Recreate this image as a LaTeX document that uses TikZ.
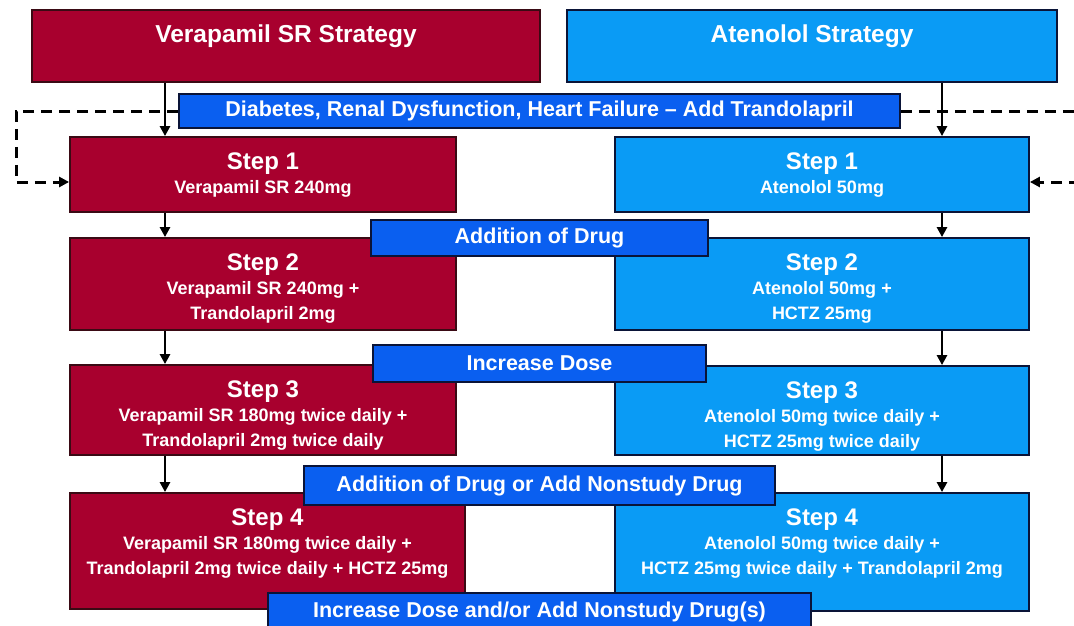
\documentclass[tikz,border=0pt]{standalone}
\usepackage{fontspec}
\setmainfont{Liberation Sans}
\usetikzlibrary{arrows.meta, calc}
\definecolor{verared}{HTML}{A8002E}
\definecolor{atenblue}{HTML}{0A9BF5}
\definecolor{barblue}{HTML}{0A5FF0}
\definecolor{redline}{HTML}{3A0A14}
\definecolor{blueline}{HTML}{0A1438}
\newcommand{\stephead}[1]{{\fontsize{24}{24}\selectfont #1}}
\tikzset{
  redbox/.style={rectangle, fill=verared, draw=redline, line width=1.8pt, inner sep=0pt},
  bluebox/.style={rectangle, fill=atenblue, draw=blueline, line width=1.8pt, inner sep=0pt},
  bar/.style={rectangle, fill=barblue, draw=blueline, line width=1.8pt, inner sep=0pt, text=white, font=\bfseries\fontsize{21.5}{24}\selectfont},
  title/.style={text=white, anchor=north, inner sep=0pt, font=\bfseries\fontsize{24.5}{26}\selectfont},
  steptxt/.style={text=white, align=center, anchor=north, inner sep=0pt, font=\bfseries\fontsize{18}{24.5}\selectfont},
  flow/.style={-{Triangle[length=10pt, width=10pt]}, line width=2.8pt},
  loopback/.style={-{Triangle[length=10pt, width=10pt]}, line width=3pt, dash pattern=on 11pt off 7pt},
  every node/.append style={font=\bfseries}
}

\begin{document}
\begin{tikzpicture}[x=1pt, y=-1pt]
\clip (0,0) rectangle (1074,626);
\fill[white] (0,0) rectangle (1074,626);
\node[redbox, minimum width=508pt, minimum height=72pt] (vs) at (286,46) {};
\node[title] (vst) at ([yshift=-15pt]vs.north) {Verapamil SR Strategy};
\node[bluebox, minimum width=490pt, minimum height=72pt] (as) at (812,46) {};
\node[title] (ast) at ([yshift=-15pt]as.north) {Atenolol Strategy};
\node[redbox, minimum width=386pt, minimum height=75pt] (v1) at (263,174.5) {};
\node[redbox, minimum width=386pt, minimum height=92pt] (v2) at (263,284) {};
\node[redbox, minimum width=386pt, minimum height=90pt] (v3) at (263,410) {};
\node[redbox, minimum width=395pt, minimum height=116pt] (v4) at (267.5,551) {};
\node[bluebox, minimum width=414pt, minimum height=75pt] (a1) at (822,174.5) {};
\node[bluebox, minimum width=414pt, minimum height=92pt] (a2) at (822,284) {};
\node[bluebox, minimum width=414pt, minimum height=89pt] (a3) at (822,410.5) {};
\node[bluebox, minimum width=414pt, minimum height=118pt] (a4) at (822,552) {};
\node[steptxt] (v1t) at ([yshift=-16pt]v1.north) {\stephead{Step 1}\\Verapamil SR 240mg};
\node[steptxt] (v2t) at ([yshift=-16pt]v2.north) {\stephead{Step 2}\\Verapamil SR 240mg +\\Trandolapril 2mg};
\node[steptxt] (v3t) at ([yshift=-16pt]v3.north) {\stephead{Step 3}\\Verapamil SR 180mg twice daily +\\Trandolapril 2mg twice daily};
\node[steptxt] (v4t) at ([yshift=-16pt]v4.north) {\stephead{Step 4}\\Verapamil SR 180mg twice daily +\\Trandolapril 2mg twice daily + HCTZ 25mg};
\node[steptxt] (a1t) at ([yshift=-16pt]a1.north) {\stephead{Step 1}\\Atenolol 50mg};
\node[steptxt] (a2t) at ([yshift=-16pt]a2.north) {\stephead{Step 2}\\Atenolol 50mg +\\HCTZ 25mg};
\node[steptxt] (a3t) at ([yshift=-16pt]a3.north) {\stephead{Step 3}\\Atenolol 50mg twice daily +\\HCTZ 25mg twice daily};
\node[steptxt] (a4t) at ([yshift=-16pt]a4.north) {\stephead{Step 4}\\Atenolol 50mg twice daily +\\HCTZ 25mg twice daily + Trandolapril 2mg};
\coordinate (lx) at (165,0);
\coordinate (rx) at (942,0);
\foreach \a/\b/\c in {vs/v1/lx, v1/v2/lx, v2/v3/lx, v3/v4/lx, as/a1/rx, a1/a2/rx, a2/a3/rx, a3/a4/rx}
  \draw[flow] (\a.south -| \c) -- (\b.north -| \c);
\node[bar, minimum width=721pt, minimum height=34pt] (b1) at (539.5,111) {Diabetes, Renal Dysfunction, Heart Failure -- Add Trandolapril};
\node[bar, minimum width=337pt, minimum height=36pt] (b2) at (539.5,238) {Addition of Drug};
\node[bar, minimum width=333pt, minimum height=37pt] (b3) at (539.5,363.5) {Increase Dose};
\node[bar, minimum width=471pt, minimum height=39pt] (b4) at (539.5,485.5) {Addition of Drug or Add Nonstudy Drug};
\node[bar, minimum width=543pt, minimum height=38pt] (b5) at (539.5,612) {Increase Dose and/or Add Nonstudy Drug(s)};
\coordinate (dl) at (16,182);
\coordinate (dr) at (1090,182);
\draw[loopback] (b1.west) -| (dl) -- (dl -| v1.west);
\draw[loopback] (b1.east) -| (dr) -- (dr -| a1.east);
\end{tikzpicture}
\end{document}
